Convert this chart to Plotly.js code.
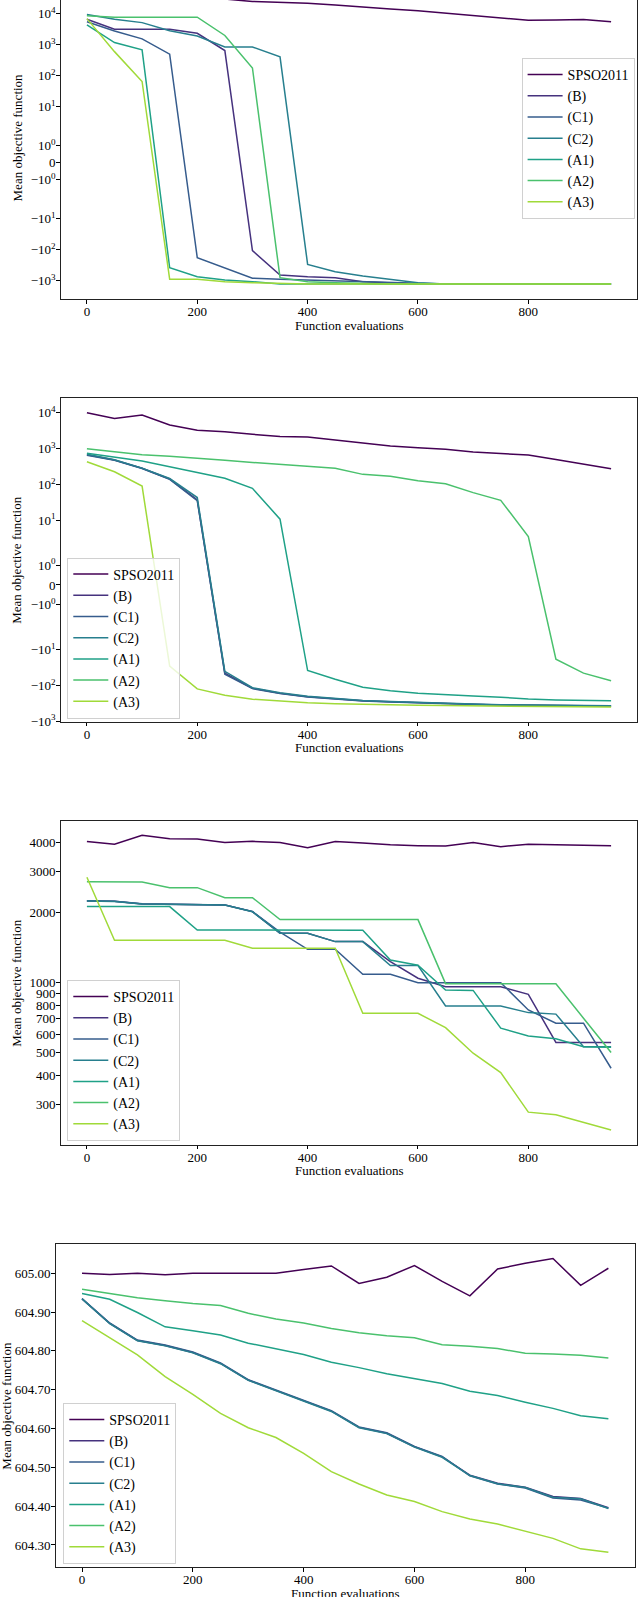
<!DOCTYPE html>
<html>
<head>
<meta charset="utf-8">
<script src="https://cdn.plot.ly/plotly-3.0.1.min.js"></script>
<style>
  html, body { margin: 0; padding: 0; overflow: hidden; background: #fff; }
  #chart { position: absolute; left: 0; top: -25px; width: 640px; height: 1622px; }
</style>
</head>
<body>
<div id="chart"></div>
<script>
(function() {
    'use strict';

    // x values shared by every panel
    var evals = [0, 50, 100, 150, 200, 250, 300, 350, 400, 450, 500, 550, 600, 650, 700, 750, 800, 850, 900, 950];
    var names = ['SPSO2011', '(B)', '(C1)', '(C2)', '(A1)', '(A2)', '(A3)'];
    var colors = ['#440154', '#46327e', '#365c8d', '#277f8e', '#1fa187', '#4ac16d', '#a0da39'];
    var xTitle = 'Function evaluations';
    var yTitle = 'Mean objective function';

    // Panel 1 (symlog)
    var p1Spso = [48000, 45000, 42000, 38000, 34000, 30000, 25000, 24000, 21900, 19300, 16400, 14400, 12600, 10500, 9000, 7700, 6200, 6300, 6500, 5500];
    var p1B    = [6700, 3170, 3170, 3170, 2340, 650, -108, -661, -750, -807, -1087, -1200, -1290, -1290, -1290, -1290, -1290, -1290, -1290, -1290];
    var p1C1   = [5550, 2800, 1550, 496, -182, -385, -840, -900, -957, -1000, -1087, -1175, -1250, -1290, -1290, -1290, -1290, -1290, -1290, -1290];
    var p1C2   = [9500, 6680, 5190, 2850, 1930, 850, 850, 405, -299, -519, -710, -912, -1175, -1290, -1290, -1290, -1290, -1290, -1290, -1290];
    var p1A1   = [4370, 1175, 684, -385, -750, -957, -1087, -1290, -1290, -1290, -1290, -1290, -1290, -1290, -1290, -1290, -1290, -1290, -1290, -1290];
    var p1A2   = [8600, 7800, 7800, 7800, 7800, 2000, 178, -807, -1087, -1175, -1250, -1290, -1290, -1290, -1290, -1290, -1290, -1290, -1290, -1290];
    var p1A3   = [7000, 600, 65, -912, -912, -1087, -1175, -1250, -1290, -1290, -1290, -1290, -1290, -1290, -1290, -1290, -1290, -1290, -1290, -1290];

    // Panel 2 (symlog)
    var p2Spso = [10100, 7000, 8700, 4570, 3250, 2960, 2520, 2200, 2100, 1740, 1460, 1180, 1060, 960, 800, 740, 660, 500, 370, 275];
    var p2B    = [670, 480, 282, 142, 37, -45, -119, -164, -204, -237, -264, -282, -301, -321, -335, -348, -355, -362, -370, -370];
    var p2C1   = [650, 470, 278, 138, 35, -48, -122, -168, -208, -240, -268, -286, -305, -325, -338, -351, -358, -365, -372, -373];
    var p2C2   = [700, 490, 286, 146, 43, -40, -115, -160, -200, -233, -260, -278, -297, -316, -330, -343, -350, -357, -365, -366];
    var p2A1   = [740, 570, 450, 313, 218, 148, 78, 10.7, -38, -67, -112, -139, -164, -183, -195, -212, -237, -252, -255, -264];
    var p2A2   = [990, 800, 675, 610, 545, 470, 413, 364, 333, 282, 191, 168, 126, 105, 59, 36, 3.5, -18.4, -45, -73];
    var p2A3   = [432, 226, 90, -28.5, -124, -186, -240, -275, -301, -321, -335, -348, -355, -362, -370, -380, -390, -392, -398, -400];

    // Panel 3 (log)
    var p3Spso = [4050, 3945, 4310, 4160, 4150, 4010, 4060, 4010, 3810, 4050, 3990, 3920, 3890, 3880, 4010, 3850, 3945, 3920, 3890, 3890];
    var p3B    = [2248, 2240, 2182, 2170, 2160, 2160, 2022, 1632, 1632, 1502, 1502, 1232, 1045, 961, 961, 961, 891, 553, 553, 553];
    var p3C1   = [2250, 2242, 2184, 2172, 2162, 2162, 2024, 1650, 1392, 1392, 1087, 1087, 1000, 1000, 1000, 1000, 763, 669, 669, 428];
    var p3C2   = [2246, 2238, 2180, 2168, 2158, 2158, 2020, 1632, 1632, 1502, 1502, 1184, 1184, 794, 794, 794, 743, 732, 530, 530];
    var p3A1   = [2126, 2126, 2126, 2126, 1686, 1686, 1686, 1686, 1686, 1686, 1680, 1252, 1188, 930, 926, 637, 589, 573, 530, 527];
    var p3A2   = [2722, 2720, 2710, 2565, 2565, 2323, 2323, 1868, 1868, 1868, 1868, 1868, 1868, 990, 990, 990, 990, 990, 703, 500];
    var p3A3   = [2843, 1522, 1522, 1522, 1522, 1522, 1406, 1406, 1406, 1406, 738, 738, 738, 640, 497, 410, 277, 270, 251, 232];
    var p3Ticks = [200, 300, 400, 500, 600, 700, 800, 900, 1000, 2000, 3000, 4000];

    // Panel 4 (linear)
    var p4Spso = [605.000, 604.997, 605.000, 604.996, 605.000, 605.000, 605.000, 605.000, 605.010, 605.019, 604.974, 604.990, 605.020, 604.979, 604.942, 605.011, 605.026, 605.038, 604.969, 605.013];
    var p4B    = [604.934, 604.871, 604.827, 604.814, 604.796, 604.768, 604.725, 604.698, 604.671, 604.645, 604.603, 604.588, 604.553, 604.527, 604.480, 604.459, 604.449, 604.425, 604.420, 604.396];
    var p4C1   = [604.935, 604.872, 604.828, 604.815, 604.797, 604.769, 604.726, 604.699, 604.672, 604.646, 604.604, 604.589, 604.554, 604.528, 604.478, 604.457, 604.447, 604.421, 604.416, 604.395];
    var p4C2   = [604.934, 604.870, 604.826, 604.813, 604.795, 604.767, 604.724, 604.697, 604.670, 604.644, 604.602, 604.587, 604.552, 604.526, 604.479, 604.458, 604.448, 604.423, 604.419, 604.394];
    var p4A1   = [604.948, 604.933, 604.899, 604.862, 604.852, 604.841, 604.820, 604.805, 604.791, 604.771, 604.757, 604.741, 604.729, 604.716, 604.696, 604.685, 604.668, 604.652, 604.633, 604.625];
    var p4A2   = [604.959, 604.948, 604.937, 604.929, 604.922, 604.917, 604.897, 604.882, 604.872, 604.858, 604.847, 604.839, 604.834, 604.816, 604.812, 604.806, 604.794, 604.792, 604.789, 604.782];
    var p4A3   = [604.878, 604.835, 604.790, 604.734, 604.688, 604.639, 604.602, 604.577, 604.536, 604.489, 604.457, 604.429, 604.412, 604.386, 604.367, 604.354, 604.336, 604.317, 604.290, 604.281];
    var p4Ticks = [604.3, 604.4, 604.5, 604.6, 604.7, 604.8, 604.9, 605.0];

    var symTicks = [1e5, 1e4, 1e3, 1e2, 10, 1, 0, -1, -10, -100, -1000];

    // matplotlib symlog, linthresh 2, linscale 1
    function symlog(v) {
        var t = 2, k = 1 / (1 - 1 / 10);
        if (Math.abs(v) <= t) return v * k;
        return Math.sign(v) * t * (k + Math.log10(Math.abs(v) / t));
    }
    function symLabel(v) {
        if (v === 0) return '0';
        var e = Math.round(Math.log10(Math.abs(v)));
        return (v < 0 ? '\u2212' : '') + '10<sup>' + e + '</sup>';
    }

    // page geometry helpers (div is 1622 tall, shifted up by 25)
    var W = 640, H = 1622, OFF = 25;
    function px(x) { return x / W; }
    function py(y) { return 1 - (y + OFF) / H; }

    var FONT = 'Liberation Serif, Times New Roman, serif';

    // axes boxes in page pixels: left, right, top, bottom, y-title x
    var boxes = [
        { l: 60.7, r: 637.3, t: -24.4, b: 299.3, yt: 17 },
        { l: 60.7, r: 637.3, t: 398, b: 721.7, yt: 17 },
        { l: 60.7, r: 637.3, t: 821, b: 1144.7, yt: 17 },
        { l: 55.7, r: 634.7, t: 1244, b: 1567.3, yt: 7 }
    ];
    var legendTops = [[521.6, 58], [67.3, 557.5], [67.3, 980], [63.3, 1403]];

    var panels = [
        { series: [p1Spso, p1B, p1C1, p1C2, p1A1, p1A2, p1A3], sym: true },
        { series: [p2Spso, p2B, p2C1, p2C2, p2A1, p2A2, p2A3], sym: true },
        { series: [p3Spso, p3B, p3C1, p3C2, p3A1, p3A2, p3A3], sym: false },
        { series: [p4Spso, p4B, p4C1, p4C2, p4A1, p4A2, p4A3], sym: false }
    ];

    var data = [];
    panels.forEach(function(p, i) {
        var n = i === 0 ? '' : String(i + 1);
        p.series.forEach(function(s, j) {
            data.push({
                x: evals,
                y: p.sym ? s.map(symlog) : s,
                type: 'scatter',
                mode: 'lines',
                name: names[j],
                line: { color: colors[j], width: 1.5 },
                xaxis: 'x' + n,
                yaxis: 'y' + n,
                legend: 'legend' + n,
                hoverinfo: 'skip'
            });
        });
    });

    function xAxis(b, anchor) {
        return {
            domain: [px(b.l), px(b.r)], anchor: anchor,
            range: [-47.5, 997.5],
            tickvals: [0, 200, 400, 600, 800],
            ticks: 'outside', ticklen: 3.5, tickcolor: '#000',
            ticklabelstandoff: -3,
            showline: true, mirror: true, linecolor: '#222', linewidth: 1,
            showgrid: false, zeroline: false,
            tickfont: { size: 13, color: '#000' }
        };
    }
    function yAxis(b, anchor, extra) {
        var a = {
            domain: [py(b.b), py(b.t)], anchor: anchor,
            ticks: 'outside', ticklen: 3.5, tickcolor: '#000',
            ticklabelstandoff: -2,
            showline: true, mirror: true, linecolor: '#222', linewidth: 1,
            showgrid: false, zeroline: false,
            tickfont: { size: 13, color: '#000' }
        };
        Object.keys(extra).forEach(function(k) { a[k] = extra[k]; });
        return a;
    }
    function legendAt(pos) {
        return {
            x: px(pos[0]), y: py(pos[1]), xanchor: 'left', yanchor: 'top',
            bgcolor: 'rgba(255,255,255,0.8)', bordercolor: '#d0d0d0', borderwidth: 1,
            itemwidth: 35,
            font: { size: 14, color: '#000' }
        };
    }

    var symTickVals = symTicks.map(symlog);
    var symTickText = symTicks.map(symLabel);

    // axis titles as annotations so they sit where the reference has them
    var annotations = [];
    boxes.forEach(function(b) {
        annotations.push({
            xref: 'paper', yref: 'paper', showarrow: false,
            x: px((b.l + b.r) / 2), y: py(b.b + 26), xanchor: 'center', yanchor: 'middle',
            text: xTitle, font: { size: 13, color: '#000' }
        });
        annotations.push({
            xref: 'paper', yref: 'paper', showarrow: false, textangle: -90,
            x: px(b.yt), y: py((b.t + b.b) / 2), xanchor: 'center', yanchor: 'middle',
            text: yTitle, font: { size: 13, color: '#000' }
        });
    });

    var layout = {
        width: W, height: H,
        margin: { l: 0, r: 0, t: 0, b: 0 },
        paper_bgcolor: '#fff', plot_bgcolor: '#fff',
        font: { family: FONT, color: '#000' },
        showlegend: true,
        annotations: annotations,

        xaxis: xAxis(boxes[0], 'y'),
        yaxis: yAxis(boxes[0], 'x', { range: [-8.83, 12.09], tickvals: symTickVals, ticktext: symTickText }),
        xaxis2: xAxis(boxes[1], 'y2'),
        yaxis2: yAxis(boxes[1], 'x2', { range: [-7.64, 10.45], tickvals: symTickVals, ticktext: symTickText }),
        xaxis3: xAxis(boxes[2], 'y3'),
        yaxis3: yAxis(boxes[2], 'x3', {
            type: 'log', range: [2.3023, 3.696],
            tickvals: p3Ticks, ticktext: p3Ticks.map(String)
        }),
        xaxis4: xAxis(boxes[3], 'y4'),
        yaxis4: yAxis(boxes[3], 'x4', {
            range: [604.2425, 605.0755],
            tickvals: p4Ticks, tickformat: '.2f'
        }),

        legend: legendAt(legendTops[0]),
        legend2: legendAt(legendTops[1]),
        legend3: legendAt(legendTops[2]),
        legend4: legendAt(legendTops[3])
    };

    Plotly.newPlot('chart', data, layout, { displayModeBar: false, staticPlot: true });
})();
</script>
</body>
</html>
